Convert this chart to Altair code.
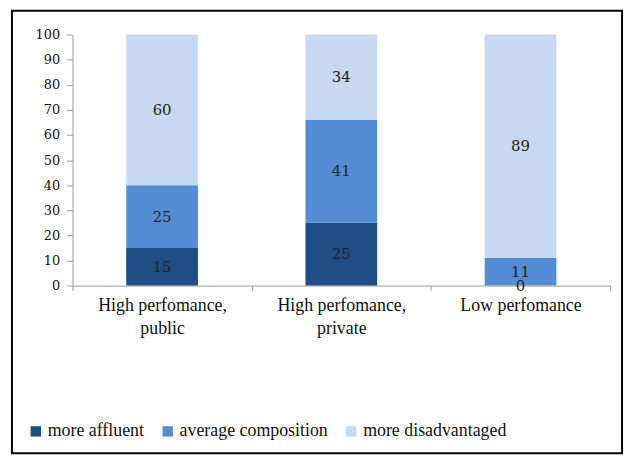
import altair as alt
import pandas as pd

categories = ["High perfomance, public", "High perfomance, private", "Low perfomance"]
groups = ["more affluent", "average composition", "more disadvantaged"]
more_affluent = [15, 25, 0]
average_composition = [25, 41, 11]
more_disadvantaged = [60, 34, 89]
colors = ["#1F4E85", "#548DD4", "#C6D9F1"]

rows = []
for i, c in enumerate(categories):
    for j, (g, vals) in enumerate(zip(groups, [more_affluent, average_composition, more_disadvantaged])):
        rows.append({"cat": c, "group": g, "value": vals[i], "order": j})
df = pd.DataFrame(rows)

serif = "Liberation Serif, Times New Roman, serif"

base = alt.Chart(df).transform_stack(
    stack="value", groupby=["cat"], as_=["y0", "y1"], sort=[alt.SortField("order")]
).transform_calculate(mid="(datum.y0 + datum.y1) / 2")

xaxis = alt.Axis(labelAngle=0, tickBand="extent", labelLineHeight=23,
                 labelExpr="indexof(datum.label, ',') > 0 ? [slice(datum.label, 0, indexof(datum.label, ',') + 1), trim(slice(datum.label, indexof(datum.label, ',') + 1))] : datum.label")
xscale = alt.Scale(paddingInner=0, paddingOuter=0)
yaxis = alt.Axis(values=list(range(0, 101, 10)), tickCount=11, grid=False, labelOverlap=False)
yscale = alt.Scale(domain=[0, 100], nice=False)

bars = base.mark_bar(width=alt.RelativeBandSize(0.4)).encode(
    x=alt.X("cat:N", sort=categories, title=None, scale=xscale, axis=xaxis),
    y=alt.Y("y0:Q", title=None, scale=yscale, axis=yaxis),
    y2="y1:Q",
    color=alt.Color("group:N", sort=groups, scale=alt.Scale(domain=groups, range=colors),
                    legend=alt.Legend(title=None, orient="none", direction="horizontal",
                                      legendX=-46, legendY=391)),
)

labels = base.mark_text(font="DejaVu Serif", fontSize=15, color="#222").encode(
    x=alt.X("cat:N", sort=categories, title=None, scale=xscale, axis=xaxis),
    y=alt.Y("mid:Q", title=None, scale=yscale, axis=yaxis),
    text=alt.Text("value:Q"),
)

border = alt.Chart(pd.DataFrame({"a": [0]})).mark_rect(
    fill=None, stroke="black", strokeWidth=2, clip=False, width=615, height=446
).encode(x=alt.value(246.5), y=alt.value(199))

chart = alt.layer(bars, labels, border).properties(
    width=542, height=253,
    autosize=alt.AutoSizeParams(type="none"),
    padding={"left": 65, "top": 25, "right": 16, "bottom": 175},
).configure_view(stroke=None).configure_axis(
    domainColor="#9a9a9a", tickColor="#9a9a9a", labelColor="#111"
).configure_axisX(
    tickSize=5, labelFont=serif, labelFontSize=18, labelPadding=6
).configure_axisY(
    tickSize=6, labelFont="DejaVu Serif", labelFontSize=13, labelPadding=7
).configure_legend(
    symbolType="square", symbolSize=110, symbolStrokeWidth=0,
    labelFont=serif, labelFontSize=18, labelColor="#111",
    columnPadding=14, labelOffset=3
)

chart.save("out.html", embed_options={"renderer": "svg", "actions": False})
